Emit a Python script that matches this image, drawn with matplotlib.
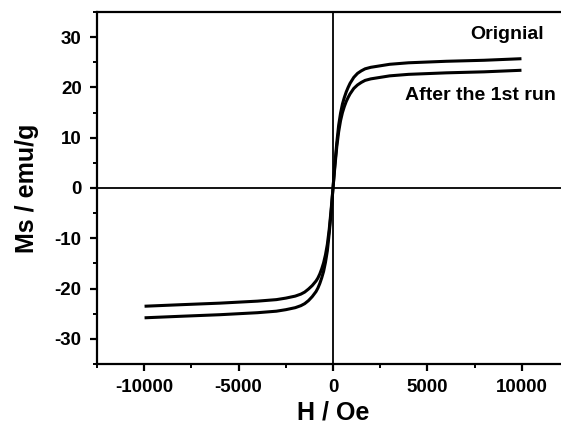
import numpy as np
import matplotlib.pyplot as plt
from matplotlib.ticker import MultipleLocator

plt.rcParams['font.family'] = ['Liberation Sans', 'DejaVu Sans']
plt.rcParams['font.weight'] = 'bold'
plt.rcParams['axes.unicode_minus'] = False

# 磁场 (Oe)
H = [-9900, -8000, -6000, -4000, -3000, -2500, -2000, -1700, -1500, -1300, -1100, -900, -800,
     -700, -600, -500, -400, -300, -200, -100,
     0, 100, 200, 300, 400, 500, 600, 700, 800, 900, 1100, 1300, 1500, 1700, 2000, 2500,
     3000, 4000, 6000, 8000, 9900]
# 原始样品
M_orig = [-25.8, -25.5, -25.2, -24.8, -24.5, -24.2, -23.8, -23.4, -23.0, -22.4, -21.6, -20.6, -19.9,
          -19.0, -17.9, -16.6, -14.8, -12.5, -9.0, -4.8,
          0.0, 4.8, 9.0, 12.5, 14.9, 16.7, 18.0, 19.1, 20.0, 20.8, 22.0, 22.8, 23.3, 23.7, 24.0, 24.3,
          24.6, 24.9, 25.2, 25.4, 25.7]
# 第一次循环后
M_run1 = [-23.5, -23.2, -22.9, -22.5, -22.2, -21.9, -21.5, -21.1, -20.7, -20.1, -19.4, -18.5, -17.9,
          -17.1, -16.1, -14.9, -13.3, -11.2, -8.2, -4.3,
          0.0, 4.3, 8.2, 11.2, 13.4, 15.0, 16.2, 17.2, 18.0, 18.7, 19.8, 20.5, 21.0, 21.4, 21.7, 22.0,
          22.3, 22.6, 22.9, 23.1, 23.4]

fig = plt.figure(figsize=(5.61, 4.30), dpi=100)
ax = fig.add_axes([0.1729, 0.1535, 0.8414, 0.8186])

ax.plot(H, M_orig, color='black', lw=2.2, solid_joinstyle='round')
ax.plot(H, M_run1, color='black', lw=2.2, solid_joinstyle='round')

# 零线
ax.axhline(0, color='black', lw=1.3, zorder=1)
ax.axvline(0, color='black', lw=1.3, zorder=1)

ax.set_xlim(-12500, 12500)
ax.set_ylim(-35, 35)
ax.xaxis.set_major_locator(MultipleLocator(5000))
ax.xaxis.set_minor_locator(MultipleLocator(2500))
ax.yaxis.set_major_locator(MultipleLocator(10))
ax.yaxis.set_minor_locator(MultipleLocator(5))

for s in ax.spines.values():
    s.set_linewidth(1.6)
ax.tick_params(which='major', direction='out', length=5, width=1.6, labelsize=13.5, pad=6)
ax.tick_params(which='minor', direction='out', length=3, width=1.4)
for lab in ax.get_xticklabels() + ax.get_yticklabels():
    lab.set_fontweight('bold')

ax.set_xlabel('H / Oe', fontsize=18, fontweight='bold', labelpad=3)
ax.set_ylabel('Ms / emu/g', fontsize=18, fontweight='bold', labelpad=11)

ax.text(7250, 30.5, 'Orignial', fontsize=14, fontweight='bold', va='center')
ax.text(3800, 18.4, 'After the 1st run', fontsize=14, fontweight='bold', va='center')

fig.savefig('out.png', dpi=100)
